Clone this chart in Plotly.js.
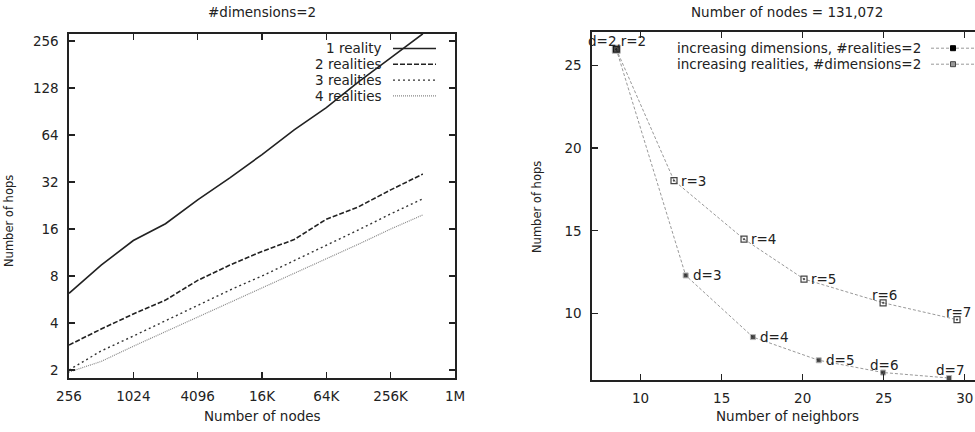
<!DOCTYPE html>
<html>
<head>
<meta charset="utf-8">
<script src="https://cdn.plot.ly/plotly-3.0.1.min.js"></script>
<style>html,body{margin:0;padding:0;background:#fff}#chart{width:975px;height:432px}</style>
</head>
<body>
<div id="chart"></div>
<script>
// ---- Left chart data (#dimensions=2) ----
const nodes = [256, 512, 1024, 2048, 4096, 8192, 16384, 32768, 65536, 131072, 262144, 524288];
const hops1Reality = [6.2, 9.4, 13.5, 17.3, 24.6, 34, 48, 69, 96, 140, 200, 285];
const hops2Realities = [2.89, 3.66, 4.57, 5.61, 7.5, 9.4, 11.5, 13.7, 18.5, 22.2, 28.5, 36];
const hops3Realities = [2.0, 2.65, 3.3, 4.15, 5.2, 6.5, 8.0, 10.0, 12.6, 15.8, 20.0, 25.0];
const hops4Realities = [1.94, 2.27, 2.84, 3.52, 4.37, 5.4, 6.7, 8.3, 10.3, 12.8, 16.0, 19.7];
const leftSeriesNames = ['1 reality', '2 realities', '3 realities', '4 realities'];
const nodeTickVals = [256, 1024, 4096, 16384, 65536, 262144, 1048576];
const nodeTickText = ['256', '1024', '4096', '16K', '64K', '256K', '1M'];
const hopTickVals = [2, 4, 8, 16, 32, 64, 128, 256];

// ---- Right chart data (Number of nodes = 131,072) ----
const dimNeighbors = [8.5, 12.78, 16.93, 20.99, 24.96, 29.03];
const dimHops = [25.96, 12.31, 8.59, 7.19, 6.45, 6.12];
const dimLabels = ['d=2,r=2', 'd=3', 'd=4', 'd=5', 'd=6', 'd=7'];
const realNeighbors = [8.5, 12.06, 16.38, 20.08, 24.96, 29.52];
const realHops = [25.96, 18.03, 14.5, 12.09, 10.66, 9.64];
const realLabels = ['', 'r=3', 'r=4', 'r=5', 'r=6', 'r=7'];
const rightSeriesNames = ['increasing dimensions, #realities=2', 'increasing realities, #dimensions=2'];
const neighborTickVals = [10, 15, 20, 25, 30];
const hopTickVals2 = [10, 15, 20, 25];

// ---- styling / layout helpers ----
const W = 975, H = 432;
const FONT = 'DejaVu Sans, Liberation Sans, sans-serif';
const FS = 13.5;
const px = x => x / W;
const py = y => 1 - y / H;
const INK = '#222';

const leftStyles = [
  {color: '#222', width: 1.6, dash: 'solid'},
  {color: '#222', width: 1.6, dash: '5px,2px'},
  {color: '#333', width: 1.4, dash: '2px,3px'},
  {color: '#888', width: 1.2, dash: '1px,1px'}
];
const leftData = [hops1Reality, hops2Realities, hops3Realities, hops4Realities];

const traces = leftData.map((ys, i) => ({
  type: 'scatter', mode: 'lines', x: nodes, y: ys, name: leftSeriesNames[i],
  xaxis: 'x', yaxis: 'y', showlegend: false,
  line: {color: leftStyles[i].color, width: leftStyles[i].width, dash: leftStyles[i].dash}
}));

traces.push({
  type: 'scatter', mode: 'lines+markers', x: realNeighbors, y: realHops, name: rightSeriesNames[1],
  xaxis: 'x2', yaxis: 'y2', showlegend: false, cliponaxis: false,
  line: {color: '#999', width: 1, dash: '3px,2px'},
  marker: {symbol: 'square-open-dot', size: 6, color: '#444', line: {width: 1.2}}
});
traces.push({
  type: 'scatter', mode: 'lines+markers', x: dimNeighbors, y: dimHops, name: rightSeriesNames[0],
  xaxis: 'x2', yaxis: 'y2', showlegend: false, cliponaxis: false,
  line: {color: '#999', width: 1, dash: '3px,2px'},
  marker: {symbol: 'square', size: dimNeighbors.map((v, i) => i === 0 ? 8 : 5), color: '#000'}
});

const tickFont = {family: FONT, size: FS, color: INK};
const axisCommon = {
  showgrid: false, zeroline: false, showline: true, linecolor: INK, linewidth: 1.6,
  ticks: 'inside', ticklen: 6, tickcolor: INK, tickwidth: 1.2, tickfont: tickFont
};

const annotations = [];
function txt(x, y, text, opts) {
  annotations.push(Object.assign({
    xref: 'paper', yref: 'paper', x: px(x), y: py(y), text: text, showarrow: false,
    font: {family: FONT, size: FS, color: INK}, xanchor: 'center', yanchor: 'middle', borderpad: 0
  }, opts || {}));
}
// titles
txt(262, 12, '#dimensions=2');
txt(787, 12, 'Number of nodes = 131,072');
// axis titles
txt(262, 416, 'Number of nodes');
txt(787, 416, 'Number of neighbors');
txt(9, 221, 'Number of hops', {textangle: -90, font: {family: FONT, size: 11.5, color: INK}});
txt(537, 207, 'Number of hops', {textangle: -90, font: {family: FONT, size: 11.5, color: INK}});

const shapes = [];
// left legend
const leftRows = [48.5, 64.3, 80.1, 95.9];
leftSeriesNames.forEach((n, i) => {
  txt(383, leftRows[i], n, {xanchor: 'right'});
  shapes.push({type: 'line', xref: 'paper', yref: 'paper', x0: px(393), x1: px(436),
    y0: py(leftRows[i]), y1: py(leftRows[i]),
    line: {color: leftStyles[i].color, width: leftStyles[i].width, dash: leftStyles[i].dash}});
});
// right legend
const rightRows = [48.2, 64.2];
rightSeriesNames.forEach((n, i) => {
  txt(922, rightRows[i], n, {xanchor: 'right'});
  shapes.push({type: 'line', xref: 'paper', yref: 'paper', x0: px(931), x1: px(975),
    y0: py(rightRows[i]), y1: py(rightRows[i]), line: {color: '#999', width: 1, dash: '3px,2px'}});
  shapes.push({type: 'rect', xref: 'paper', yref: 'paper', x0: px(950.5), x1: px(955.5),
    y0: py(rightRows[i] + 2.5), y1: py(rightRows[i] - 2.5),
    fillcolor: i === 0 ? '#000' : '#999', line: {color: i === 0 ? '#000' : '#444', width: 1}});
});

// point labels on right chart
function pointLabel(x, y, t, above) {
  annotations.push({
    xref: 'x2', yref: 'y2', x: x, y: y, text: t, showarrow: false, borderpad: 0,
    font: {family: FONT, size: FS, color: INK},
    xanchor: above ? 'center' : 'left', yanchor: 'middle',
    xshift: above ? 1 : 6, yshift: above ? 8 : 0
  });
}
dimLabels.forEach((t, i) => { if (t) pointLabel(dimNeighbors[i], dimHops[i], t, i === 0 || i >= 4); });
realLabels.forEach((t, i) => { if (t) pointLabel(realNeighbors[i], realHops[i], t, i >= 4); });

const layout = {
  width: W, height: H,
  margin: {l: 0, r: 0, t: 0, b: 0},
  paper_bgcolor: '#fff', plot_bgcolor: '#fff',
  showlegend: false,
  xaxis: Object.assign({}, axisCommon, {
    domain: [px(69), px(455)], anchor: 'y', type: 'log',
    range: [Math.log10(256), Math.log10(1048576)],
    tickmode: 'array', tickvals: nodeTickVals, ticktext: nodeTickText, mirror: 'ticks', ticklabelstandoff: 5
  }),
  yaxis: Object.assign({}, axisCommon, {
    domain: [py(378), py(34)], anchor: 'x', type: 'log',
    range: [0.83 * Math.log10(2), 8.15 * Math.log10(2)],
    tickmode: 'array', tickvals: hopTickVals, ticktext: hopTickVals.map(String), mirror: 'ticks', ticklabelstandoff: 6
  }),
  xaxis2: Object.assign({}, axisCommon, {
    domain: [px(592), 1], anchor: 'y2', range: [7, 30.63],
    tickmode: 'array', tickvals: neighborTickVals, mirror: 'ticks', ticklabelstandoff: 5
  }),
  yaxis2: Object.assign({}, axisCommon, {
    domain: [py(380), py(32)], anchor: 'x2', range: [6, 27],
    tickmode: 'array', tickvals: hopTickVals2, mirror: false, ticklabelstandoff: 6
  }),
  annotations: annotations,
  shapes: shapes
};

Plotly.newPlot('chart', traces, layout, {staticPlot: true, displayModeBar: false});
</script>
</body>
</html>
